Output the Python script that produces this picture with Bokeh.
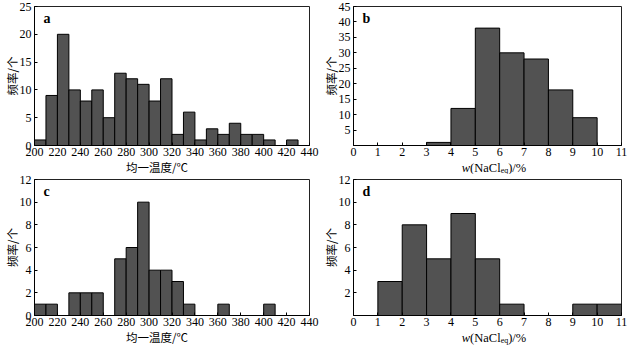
from bokeh.plotting import figure
from bokeh.layouts import row, column
from bokeh.models import Range1d, FixedTicker, Label, Div
from bokeh.embed import file_html
from bokeh.resources import INLINE

# homogenization temperature bins (°C)
temp_edges = list(range(200, 450, 10))
temp_ticks = list(range(200, 460, 20))
a_counts = [1, 9, 20, 10, 8, 10, 5, 13, 12, 11, 8, 12, 2, 6, 1, 3, 2, 4, 2, 2, 1, 0, 1, 0]
c_counts = [1, 1, 0, 2, 2, 2, 0, 5, 6, 10, 4, 4, 3, 1, 0, 0, 1, 0, 0, 0, 1, 0, 0, 0]
# salinity bins (wt% NaCl eq)
sal_edges = list(range(0, 12))
sal_ticks = list(range(0, 12))
b_counts = [0, 0, 0, 1, 12, 38, 30, 28, 18, 9, 0]
d_counts = [0, 3, 8, 5, 9, 5, 1, 0, 0, 1, 1]

a_yticks = [0, 5, 10, 15, 20, 25]
b_yticks = [5, 10, 15, 20, 25, 30, 35, 40, 45]
c_yticks = [0, 2, 4, 6, 8, 10, 12]
d_yticks = [2, 4, 6, 8, 10, 12]

temp_label = "均一温度/℃"
count_label = "频率/个"
sal_label_html = '<i>w</i>(NaCl<sub style="font-size:8px;line-height:0;vertical-align:-1px">eq</sub>)/%'

SERIF = "Liberation Serif"
CJK = "Noto Sans CJK SC"
FILL = "#525252"


def panel(edges, counts, xticks, yticks, ymax, letter, width, height,
          bl, br, bt, bb):
    p = figure(width=width, height=height, output_backend="svg",
               toolbar_location=None,
               x_range=Range1d(edges[0], edges[-1]),
               y_range=Range1d(0, ymax),
               min_border_left=bl, min_border_right=br,
               min_border_top=bt, min_border_bottom=bb)
    p.quad(left=edges[:-1], right=edges[1:], bottom=0, top=counts,
           fill_color=FILL, line_color="black", line_width=1)
    p.xgrid.visible = False
    p.ygrid.visible = False
    p.outline_line_color = "#222222"
    p.outline_line_width = 1
    p.background_fill_color = "white"
    p.border_fill_color = "white"
    for ax in (p.xaxis[0], p.yaxis[0]):
        ax.major_tick_in = 3
        ax.major_tick_out = 0
        ax.minor_tick_line_color = None
        ax.axis_line_color = "black"
        ax.major_tick_line_color = "black"
        ax.major_label_text_font = SERIF
        ax.major_label_text_font_size = "12px"
        ax.major_label_text_color = "black"
        ax.axis_label_text_font = CJK
        ax.axis_label_text_font_size = "11.5px"
        ax.axis_label_text_font_style = "normal"
        ax.axis_label_text_color = "black"
        ax.axis_label_standoff = -3
    p.xaxis.major_label_standoff = 2
    p.yaxis.major_label_standoff = 3
    p.xaxis.ticker = FixedTicker(ticks=xticks)
    p.yaxis.ticker = FixedTicker(ticks=yticks)
    p.yaxis.axis_label = count_label
    p.add_layout(Label(x=edges[0], y=ymax, x_offset=9, y_offset=-4,
                       text=letter, text_font=SERIF, text_font_size="14px",
                       text_font_style="bold", text_baseline="top",
                       text_align="left", text_color="black"))
    return p


def label_div(inner, width, height, left, inner_w, font, size):
    html = ('<div style="width:%dpx;margin-left:%dpx;text-align:center;'
            'font-family:\'%s\';font-size:%s;line-height:12px;position:relative;top:-2px;'
            'color:black;white-space:nowrap;overflow:visible">%s</div>') % (
        inner_w, left, font, size, inner)
    return Div(text=html, width=width, height=height, margin=0)


W_L, W_R = 319, 308
H_T, H_B = 173, 170
DIV_H = 11
BB = 17
BT = 6

pa = panel(temp_edges, a_counts, temp_ticks, a_yticks, 25, "a", W_L, H_T - DIV_H,
           0, 10, BT, BB)
pb = panel(sal_edges, b_counts, sal_ticks, b_yticks, 45, "b", W_R, H_T - DIV_H,
           31, 6, BT, BB)
pc = panel(temp_edges, c_counts, temp_ticks, c_yticks, 12, "c", W_L, H_B - DIV_H,
           0, 10, BT, BB)
pd = panel(sal_edges, d_counts, sal_ticks, d_yticks, 12, "d", W_R, H_B - DIV_H,
           31, 6, BT, BB)

da = label_div(temp_label, W_L, DIV_H, 0, 314, CJK, "11.5px")
dc = label_div(temp_label, W_L, DIV_H, 0, 314, CJK, "11.5px")
db = label_div(sal_label_html, W_R, DIV_H, 31, 288, SERIF, "12.5px")
dd = label_div(sal_label_html, W_R, DIV_H, 31, 288, SERIF, "12.5px")

layout = row(column(pa, da, pc, dc), column(pb, db, pd, dd))
open("out.html", "w").write(file_html(layout, INLINE))
